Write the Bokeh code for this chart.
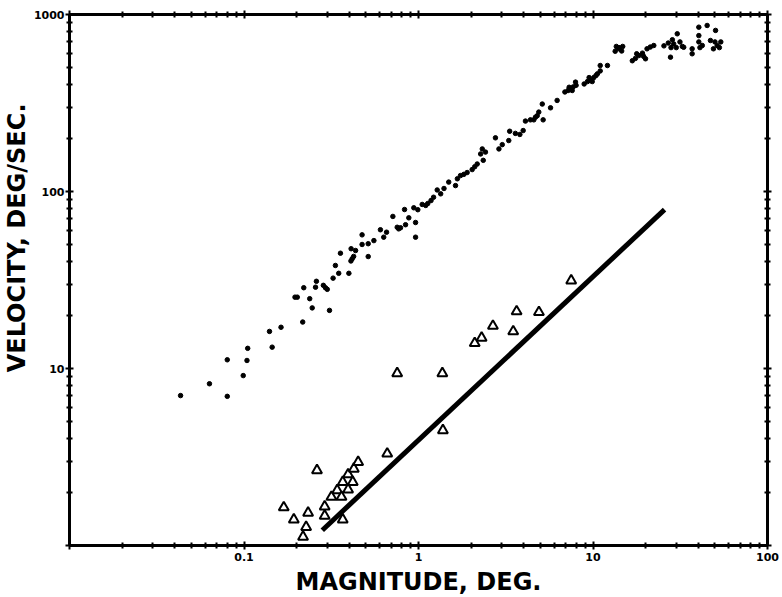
import math
from bokeh.plotting import figure
from bokeh.models import LogAxis, FixedTicker, Title, Range1d
from bokeh.embed import file_html
from bokeh.resources import INLINE

# ---- data ----
dot_x = [0.0433, 0.0634, 0.0802, 0.0802, 0.099, 0.104, 0.105, 0.145, 0.140, 0.163,
         0.217, 0.202, 0.196, 0.220, 0.238, 0.246, 0.257, 0.260, 0.293, 0.285,
         0.300, 0.309, 0.324, 0.334, 0.357, 0.349, 0.399, 0.417, 0.425, 0.410,
         0.436, 0.515,
         0.411, 0.475, 0.475, 0.515, 0.555, 0.605, 0.632, 0.656, 0.713, 0.755,
         0.77, 0.789, 0.843, 0.880, 0.832, 0.962, 0.962, 0.940, 0.991, 1.05,
         1.10, 1.13, 1.18, 1.22, 1.28, 1.34, 1.40, 1.49, 1.63, 1.67,
         1.74, 1.82, 1.90, 2.03, 2.10, 2.17, 2.27, 2.32, 2.35, 2.42,
         2.76, 2.89, 3.02, 3.29, 3.33, 3.59, 3.81, 3.98, 4.10, 4.38,
         4.68, 4.89,
         4.58, 4.79, 5.18, 5.12, 5.71, 6.23,
         6.9, 7.2, 7.43, 7.7, 8.0, 7.6, 7.3, 7.94,
         8.9, 9.3, 9.68, 10.1, 10.4, 9.5, 9.9, 10.6, 11.0,
         11.0, 12.1,
         13.4, 14.1, 14.8, 13.6, 14.6, 14.1,
         16.8, 17.5, 18.3, 19.2, 20.4, 21.3, 22.3, 17.8, 19.5, 20.0,
         25.5, 27.0, 28.5, 29.0, 30.4, 30.0, 31.5, 32.5, 27.8, 33.1, 28.0,
         37.0, 37.0, 40.4, 40.4, 40.4, 41.0, 45.1, 42.3, 50.4, 47.1,
         51.5, 49.0, 54.0, 53.0, 50.0]
dot_y = [7.03, 8.2, 6.96, 11.2, 9.12, 11.1, 13.0, 13.2, 16.2, 17.1,
         18.3, 25.3, 25.3, 28.6, 24.8, 22.0, 28.8, 31.1, 28.6, 29.5,
         28.0, 21.3, 32.4, 38.2, 44.8, 34.5, 34.5, 41.7, 43.0, 40.5,
         46.4, 42.9,
         47.5, 56.9, 50.2, 50.7, 52.8, 60.8, 55.2, 58.9, 72.3, 62.8,
         61.5, 62.4, 64.9, 71.0, 79.1, 55.2, 66.8, 80.9, 78.9, 84.5,
         83.4, 85.5, 88.9, 92.8, 102, 97, 104, 113, 108, 118,
         123, 125, 128, 133, 138, 143, 163, 174, 150, 167,
         201, 174, 184, 194, 219, 213, 210, 221, 250, 254,
         263, 281,
         254, 268, 254, 312, 297, 327,
         365, 372, 380, 390, 398, 372, 388, 415,
         405, 418, 424, 440, 452, 440, 418, 462, 480,
         515, 515,
         620, 640, 660, 660, 622, 650,
         548, 565, 586, 605, 640, 655, 668, 600, 580, 562,
         665, 690, 720, 682, 778, 650, 700, 660, 574, 653, 650,
         600, 640, 848, 760, 700, 650, 867, 668, 813, 713,
         668, 640, 700, 650, 700]

tri_x = [0.169, 0.193, 0.233, 0.227, 0.218, 0.262, 0.290, 0.290, 0.317, 0.342,
         0.362, 0.368, 0.395, 0.395, 0.420, 0.426, 0.451, 0.368, 0.662, 1.38,
         0.755, 1.37, 2.10, 2.30, 2.67, 3.49, 3.65, 4.90, 7.50]
tri_y = [1.64, 1.40, 1.53, 1.27, 1.12, 2.66, 1.66, 1.47, 1.88, 2.05,
         1.88, 2.28, 2.07, 2.52, 2.28, 2.71, 2.96, 1.40, 3.30, 4.47,
         9.40, 9.40, 13.9, 14.9, 17.4, 16.2, 21.0, 20.8, 31.4]

fit_x = [0.281, 25.7]
fit_y = [1.22, 79.0]

x_ticks = [0.01, 0.1, 1, 10, 100]
x_tick_labels = ["", "0.1", "1", "10", "100"]
y_ticks = [1, 10, 100, 1000]
y_tick_labels = ["", "10", "100", "1000"]

x_minor = [m * 10.0 ** e for e in range(-2, 2) for m in range(2, 10)]
y_minor = [m * 10.0 ** e for e in range(0, 3) for m in range(2, 10)]

FONT = "DejaVu Sans"

p = figure(x_axis_type="log", y_axis_type="log",
           x_range=Range1d(0.01, 100), y_range=Range1d(1, 1000),
           frame_width=698, frame_height=531,
           min_border_left=60, min_border_right=13, min_border_top=14, min_border_bottom=50,
           output_backend="svg", toolbar_location=None,
           background_fill_color="white", border_fill_color="white")
p.xgrid.visible = False
p.ygrid.visible = False
p.outline_line_color = None

bottom = p.below[0]
left = p.left[0]


def style_axis(ax, ticks, minor, labels, show_labels, standoff=3):
    ax.ticker = FixedTicker(ticks=ticks, minor_ticks=minor)
    ax.major_label_overrides = {t: (l if show_labels else "") for t, l in zip(ticks, labels)}
    ax.axis_line_width = 3
    ax.axis_line_color = "black"
    ax.major_tick_line_width = 2
    ax.minor_tick_line_width = 2
    ax.major_tick_line_color = "black"
    ax.minor_tick_line_color = "black"
    ax.major_tick_in = 4
    ax.major_tick_out = 4
    ax.minor_tick_in = 3
    ax.minor_tick_out = 3
    ax.major_label_text_font = FONT
    ax.major_label_text_font_style = "bold"
    ax.major_label_text_color = "black"
    ax.major_label_text_font_size = "11px" if show_labels else "0px"
    ax.major_label_standoff = standoff


style_axis(bottom, x_ticks, x_minor, x_tick_labels, True)
style_axis(left, y_ticks, y_minor, y_tick_labels, True, standoff=1)

top = LogAxis()
style_axis(top, x_ticks, x_minor, x_tick_labels, False)
p.add_layout(top, "above")
right = LogAxis()
style_axis(right, y_ticks, y_minor, y_tick_labels, False)
p.add_layout(right, "right")

bottom.axis_label = "MAGNITUDE, DEG."
bottom.axis_label_text_font = FONT
bottom.axis_label_text_font_style = "bold"
bottom.axis_label_text_font_size = "24px"
bottom.axis_label_text_color = "black"
bottom.axis_label_standoff = 4

ytitle = Title(text="VELOCITY, DEG/SEC.", align="right", offset=89,
               text_font=FONT, text_font_style="bold", text_font_size="24px",
               text_color="black", standoff=0)
p.add_layout(ytitle, "left")

p.line(fit_x, fit_y, line_width=5, line_color="black")
p.scatter(dot_x, dot_y, size=4.5, color="black")
p.scatter(tri_x, tri_y, marker="triangle", size=10, fill_color="white",
          line_color="black", line_width=2)

open("out.html", "w").write(file_html(p, INLINE))
